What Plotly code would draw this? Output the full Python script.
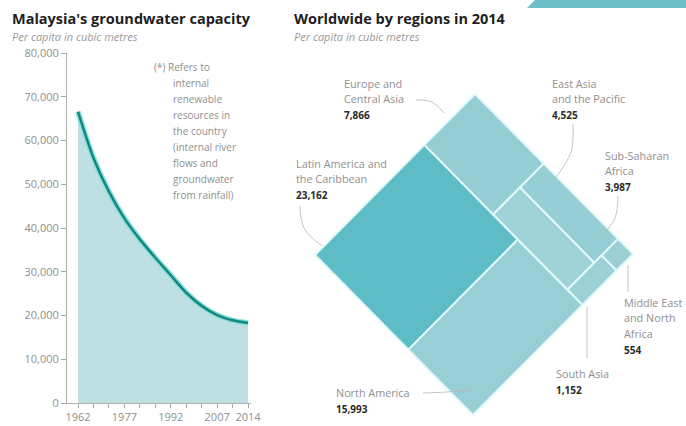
import plotly.graph_objects as go

# ---------------- data: left chart ----------------
years = ["1962", "1967", "1972", "1977", "1982", "1987", "1992", "1997",
         "2002", "2007", "2012", "2014"]
capacity = [66584, 56000, 48300, 42200, 37400, 33200, 29200, 25200,
            22200, 20100, 18900, 18300]
labeled_years = ["1962", "1977", "1992", "2007", "2014"]
y_ticks = [0, 10000, 20000, 30000, 40000, 50000, 60000, 70000, 80000]
callout_text = ["66,584", "19,396"]
footnote_lines = ["(*) Refers to", "internal", "renewable", "resources in",
                  "the country", "(internal river", "flows and",
                  "groundwater", "from rainfall)"]

# ---------------- data: right chart ----------------
region_names = [
    ["Latin America and", "the Caribbean"],
    ["North America"],
    ["Europe and", "Central Asia"],
    ["East Asia", "and the Pacific"],
    ["Sub-Saharan", "Africa"],
    ["South Asia"],
    ["Middle East", "and North", "Africa"],
]
region_values = [23162, 15993, 7866, 4525, 3987, 1152, 554]
# nested slice structure of the rotated treemap (indices into region lists)
tree = ("s", [("t", [0, 1]),
              ("t", [2, ("s", [3, 4]), ("s", [5, 6])])])

# ---------------- styles ----------------
FONT = "Open Sans"
GREY = "#8f8f8f"
DARK = "#2a2a2a"
W, H = 686, 426

region_colors = ["#5dbcc5", "#98cfd6", "#95cdd4", "#9fd2d8", "#96ced5",
                 "#9ad0d6", "#9ccfd5"]
# label anchor (left x, first-line y) for every region
label_pos = [(294, 163), (334, 392), (342, 83), (550, 83), (603, 155),
             (554, 373), (622, 302)]
leaders = [
    [(300, 206), (304, 228), (322, 246)],
    [(423, 393), (447, 392), (470, 390)],
    [(416, 100), (432, 102), (444, 113)],
    [(573, 124), (571, 152), (554, 180)],
    [(618, 196), (615, 218), (602, 236)],
    [(587, 307), (587, 332), (587, 358)],
    [(628, 265), (628, 278), (628, 292)],
]
# diamond frame: left corner, vector to top corner, vector to bottom corner
L0 = (315, 255)
VA = (160, -161)
VB = (158, 160)


def total(node):
    if isinstance(node, int):
        return region_values[node]
    return sum(total(c) for c in node[1])


def layout(node, s0, s1, t0, t1, out):
    if isinstance(node, int):
        out[node] = (s0, s1, t0, t1)
        return
    direction, children = node
    tot = total(node)
    pos = s0 if direction == "s" else t0
    span = (s1 - s0) if direction == "s" else (t1 - t0)
    for c in children:
        step = span * total(c) / tot
        if direction == "s":
            layout(c, pos, pos + step, t0, t1, out)
        else:
            layout(c, s0, s1, pos, pos + step, out)
        pos += step


def to_px(s, t):
    return (L0[0] + s * VA[0] + t * VB[0], L0[1] + s * VA[1] + t * VB[1])


rects = {}
layout(tree, 0.0, 1.0, 0.0, 1.0, rects)

fig = go.Figure()

# ---- left: area + line ----
fig.add_trace(go.Scatter(
    x=years, y=capacity, mode="lines",
    line=dict(color="#86e0dc", width=5.5, shape="spline", smoothing=0.8),
    fill="tozeroy", fillcolor="#bfe0e3", hoverinfo="skip",
    xaxis="x", yaxis="y", showlegend=False))
fig.add_trace(go.Scatter(
    x=years, y=capacity, mode="lines",
    line=dict(color="#17867f", width=2.5, shape="spline", smoothing=0.8),
    hoverinfo="skip", xaxis="x", yaxis="y", showlegend=False))

# ---- right: rotated treemap ----
for i in range(len(region_values)):
    s0, s1, t0, t1 = rects[i]
    corners = [to_px(s0, t0), to_px(s1, t0), to_px(s1, t1), to_px(s0, t1),
               to_px(s0, t0)]
    fig.add_trace(go.Scatter(
        x=[c[0] for c in corners], y=[c[1] for c in corners],
        mode="lines", fill="toself", fillcolor=region_colors[i],
        line=dict(color="#e4f9fa", width=2), hoverinfo="skip",
        xaxis="x2", yaxis="y2", showlegend=False))

for path in leaders:
    fig.add_trace(go.Scatter(
        x=[p[0] for p in path], y=[p[1] for p in path], mode="lines",
        line=dict(color="#b5b5b5", width=0.8, shape="spline"),
        hoverinfo="skip", xaxis="x2", yaxis="y2", showlegend=False))

annotations = []


def txt(x, y, text, size, color, bold=False, italic=False, anchor="left"):
    if bold:
        text = f"<b>{text}</b>"
    if italic:
        text = f"<i>{text}</i>"
    annotations.append(dict(
        x=x, y=y, xref="x2", yref="y2", text=text, showarrow=False,
        xanchor=anchor, yanchor="middle",
        font=dict(family=FONT, size=size, color=color)))


# titles
txt(10, 18, "Malaysia's groundwater capacity", 14.5, "#1e1e1e", bold=True)
txt(10, 36, "Per capita in cubic metres", 11, "#9a9a9a", italic=True)
txt(292, 18, "Worldwide by regions in 2014", 14.5, "#1e1e1e", bold=True)
txt(292, 36, "Per capita in cubic metres", 11, "#9a9a9a", italic=True)

# footnote
for k, line in enumerate(footnote_lines):
    txt(152 if k == 0 else 171, 67 + 16 * k, line, 10, GREY)

# region labels
for i, names in enumerate(region_names):
    x0, y0 = label_pos[i]
    for k, nm in enumerate(names):
        txt(x0, y0 + 15.5 * k, nm, 10.8, GREY)
    txt(x0, y0 + 15.5 * len(names) + 1, f"{region_values[i]:,}", 10, DARK,
        bold=True)

# callouts on line chart
annotations.append(dict(x=years[0], y=capacity[0], xref="x", yref="y",
                        text=f"<b>{callout_text[0]}</b>", showarrow=False,
                        xanchor="left", yanchor="bottom", yshift=1, xshift=-3,
                        font=dict(family=FONT, size=12, color=DARK)))
annotations.append(dict(x=years[-1], y=capacity[-1], xref="x", yref="y",
                        text=f"<b>{callout_text[1]}</b>", showarrow=False,
                        xanchor="center", yanchor="middle", yshift=30,
                        xshift=-4,
                        font=dict(family=FONT, size=12, color=DARK)))

fig.update_layout(
    width=W, height=H, margin=dict(l=0, r=0, t=0, b=0, autoexpand=False),
    paper_bgcolor="white", plot_bgcolor="rgba(0,0,0,0)",
    showlegend=False, annotations=annotations,
    xaxis=dict(domain=[67 / W, 251 / W], type="category",
               range=[-0.712, 11.19], tickmode="array", tickvals=years,
               ticktext=[y if y in labeled_years else "" for y in years],
               ticks="outside", ticklen=4, tickcolor="#a8a8a8",
               showline=True, linecolor="#b0b0b0", linewidth=1,
               showgrid=False, zeroline=False, anchor="y", automargin=False,
               tickfont=dict(family=FONT, size=11, color=GREY)),
    yaxis=dict(domain=[23 / H, 373 / H], range=[0, 80000],
               tickmode="array", tickvals=y_ticks, tickformat=",",
               ticks="outside", ticklen=5, tickcolor="#a8a8a8",
               showline=True, linecolor="#b0b0b0", linewidth=1,
               showgrid=False, zeroline=False, anchor="x", automargin=False,
               tickfont=dict(family=FONT, size=11, color=GREY)),
    xaxis2=dict(domain=[0, 1], range=[0, W], visible=False, anchor="y2",
                automargin=False),
    yaxis2=dict(domain=[0, 1], range=[H, 0], visible=False, anchor="x2",
                automargin=False),
    shapes=[dict(type="path", xref="x2", yref="y2",
                 path="M 527 8 L 535 0 L 686 0 L 686 8 Z",
                 fillcolor="#6dc0c6", line=dict(width=0), layer="above")],
)

fig.write_html("out.html",
               config={"displayModeBar": False, "staticPlot": True},
               post_script="document.body.style.margin='0';"
                           "document.body.style.overflow='hidden';")
